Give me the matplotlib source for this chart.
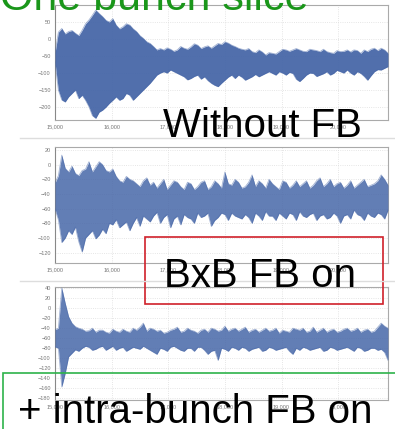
import matplotlib
matplotlib.use("Agg")
import matplotlib.pyplot as plt
from matplotlib.patches import Rectangle
from matplotlib.lines import Line2D

plt.rcParams['font.family'] = ['Liberation Sans', 'DejaVu Sans']

# turn number of each envelope sample (step of 60 turns)
turns = [15000 + 60 * k for k in range(99)]

# without feedback: upper / lower envelope of the slice position
nofb_hi = [-42, 20, 31, 15, 22, 25, 17, 10, 26, 45,
           56, 70, 85, 75, 66, 55, 50, 60, 41, 30,
           36, 45, 41, 30, 22, 10, 2, -8, -13, -22,
           -32, -28, -32, -26, -30, -36, -32, -22, -27, -30,
           -23, -14, -18, -28, -23, -20, -27, -20, -13, -16,
           -8, -12, -18, -22, -27, -30, -32, -28, -37, -40,
           -32, -38, -47, -40, -42, -44, -37, -30, -32, -36,
           -32, -28, -32, -36, -37, -30, -32, -34, -37, -30,
           -37, -40, -42, -34, -37, -36, -32, -38, -32, -34,
           -42, -32, -37, -30, -27, -34, -27, -32, -42]
nofb_lo = [-67, -150, -179, -185, -170, -160, -150, -175, -165, -180,
           -199, -225, -233, -215, -209, -200, -189, -180, -170, -180,
           -175, -160, -165, -180, -170, -160, -150, -140, -130, -118,
           -106, -100, -96, -100, -91, -96, -101, -106, -111, -120,
           -116, -110, -106, -118, -111, -122, -130, -136, -140, -130,
           -121, -112, -106, -116, -106, -112, -121, -116, -111, -104,
           -111, -106, -101, -96, -101, -106, -96, -100, -106, -98,
           -101, -118, -125, -116, -106, -100, -101, -110, -106, -102,
           -96, -106, -101, -92, -96, -100, -91, -100, -106, -96,
           -101, -110, -121, -108, -96, -90, -91, -86, -81]

# bunch-by-bunch feedback on
bxb_hi = [-25, -15, 13, -5, -10, -2, -12, -15, -8, -6,
          4, -10, -3, 4, 0, -8, -10, -6, -16, -22,
          -24, -16, -20, -22, -26, -30, -22, -18, -28, -24,
          -32, -26, -20, -34, -28, -22, -24, -30, -34, -24,
          -26, -34, -30, -24, -22, -34, -30, -22, -26, -32,
          -10, -26, -28, -20, -24, -32, -30, -24, -14, -30,
          -22, -26, -32, -20, -26, -30, -34, -22, -24, -32,
          -28, -22, -30, -26, -22, -32, -28, -22, -18, -30,
          -26, -20, -30, -26, -24, -32, -28, -22, -32, -28,
          -24, -20, -30, -28, -26, -22, -14, -20, -28]
bxb_lo = [-60, -75, -106, -100, -90, -95, -85, -105, -119, -100,
          -95, -90, -101, -96, -88, -94, -80, -82, -75, -86,
          -82, -78, -90, -80, -72, -84, -70, -74, -78, -70,
          -65, -80, -72, -68, -86, -74, -70, -82, -68, -72,
          -74, -80, -66, -72, -70, -66, -84, -76, -72, -66,
          -68, -76, -66, -70, -72, -74, -68, -72, -80, -66,
          -70, -76, -64, -70, -70, -76, -66, -70, -74, -66,
          -68, -76, -64, -70, -72, -68, -66, -76, -70, -68,
          -74, -72, -66, -70, -80, -70, -68, -74, -62, -68,
          -70, -76, -66, -70, -72, -66, -68, -74, -62]

# bunch-by-bunch + intra-bunch feedback on
ib_hi = [-43, -40, 40, 10, -17, -30, -37, -40, -42, -46,
         -45, -40, -48, -44, -44, -48, -50, -42, -46, -48,
         -42, -46, -48, -40, -44, -38, -30, -46, -40, -42,
         -46, -44, -50, -48, -44, -42, -38, -48, -46, -40,
         -44, -46, -50, -44, -42, -48, -40, -42, -46, -44,
         -36, -46, -42, -40, -46, -42, -38, -48, -44, -42,
         -48, -44, -40, -46, -44, -40, -50, -44, -46, -48,
         -40, -42, -44, -40, -48, -46, -38, -48, -44, -40,
         -48, -44, -42, -48, -46, -42, -40, -46, -44, -40,
         -48, -44, -42, -48, -46, -38, -30, -36, -40]
ib_lo = [-77, -80, -157, -130, -97, -90, -83, -86, -80, -76,
         -78, -84, -82, -78, -76, -84, -80, -76, -84, -80,
         -78, -86, -82, -78, -80, -82, -76, -80, -84, -88,
         -92, -80, -82, -86, -78, -76, -80, -84, -86, -80,
         -80, -86, -78, -78, -84, -92, -86, -84, -104, -80,
         -82, -86, -78, -80, -84, -78, -80, -86, -82, -80,
         -78, -86, -84, -78, -80, -84, -82, -80, -78, -86,
         -92, -80, -84, -78, -80, -84, -82, -80, -78, -86,
         -84, -78, -80, -84, -82, -80, -78, -82, -86, -78,
         -80, -86, -84, -80, -80, -84, -82, -88, -104]

xticks = [15000, 16000, 17000, 18000, 19000, 20000]
yticks_nofb = [50, 0, -50, -100, -150, -200]
yticks_bxb = [20, 0, -20, -40, -60, -80, -100, -120]
yticks_ib = [40, 20, 0, -20, -40, -60, -80, -100, -120, -140, -160, -180]

blue = '#4767a8'

fig = plt.figure(figsize=(3.95, 4.29), dpi=100)

panels = [
    ([0.1392, 0.7203, 0.843, 0.268], nofb_hi, nofb_lo, yticks_nofb, (-238, 100), 0.95),
    ([0.1392, 0.3869, 0.843, 0.2704], bxb_hi, bxb_lo, yticks_bxb, (-134, 24), 0.85),
    ([0.1392, 0.0676, 0.843, 0.2634], ib_hi, ib_lo, yticks_ib, (-183, 42), 0.85),
]

for rect, hi, lo, yt, ylim, alpha in panels:
    ax = fig.add_axes(rect)
    ax.fill_between(turns, lo, hi, color=blue, lw=0, alpha=alpha, zorder=3)
    ax.plot(turns, hi, color=blue, lw=0.6, alpha=0.5, zorder=3)
    ax.plot(turns, lo, color=blue, lw=0.6, alpha=0.5, zorder=3)
    ax.set_xlim(15000, 20880)
    ax.set_ylim(*ylim)
    ax.set_xticks(xticks)
    ax.set_xticklabels(['{:,}'.format(t) for t in xticks])
    ax.set_yticks(yt)
    ax.tick_params(length=0, labelsize=4, labelcolor='#777777', pad=3)
    ax.grid(True, color='#dddddd', linestyle=':', linewidth=0.6, zorder=0)
    for s in ax.spines.values():
        s.set_color('#aaaaaa')
        s.set_linewidth(0.8)
    ax.spines['left'].set_color('#888888')

# faint separators between the panels
for yy in [1 - 138 / 429, 1 - 281 / 429]:
    fig.add_artist(Line2D([20 / 395, 1.0], [yy, yy], color='#dddddd', lw=1.0,
                          transform=fig.transFigure))

# annotation boxes
fig.add_artist(Rectangle((145 / 395, 1 - 304 / 429), 238 / 395, 67 / 429,
                         fill=False, edgecolor='#d0202a', lw=1.2,
                         transform=fig.transFigure))
fig.add_artist(Rectangle((3 / 395, -0.05), 1.0, 1 - 373 / 429 + 0.05,
                         fill=False, edgecolor='#2db34a', lw=1.2,
                         transform=fig.transFigure))

fig.text(308 / 395, 1 - 10 / 429, 'One bunch slice', color='#1a961a',
         fontsize=31, ha='right', va='baseline')
fig.text(262 / 395, 1 - 137 / 429, 'Without FB', color='black',
         fontsize=29, ha='center', va='baseline')
fig.text(260 / 395, 1 - 287 / 429, 'BxB FB on', color='black',
         fontsize=29, ha='center', va='baseline')
fig.text(18 / 395, 1 - 423 / 429, '+ intra-bunch FB on', color='black',
         fontsize=29, ha='left', va='baseline')

fig.savefig('out.png', dpi=100)
